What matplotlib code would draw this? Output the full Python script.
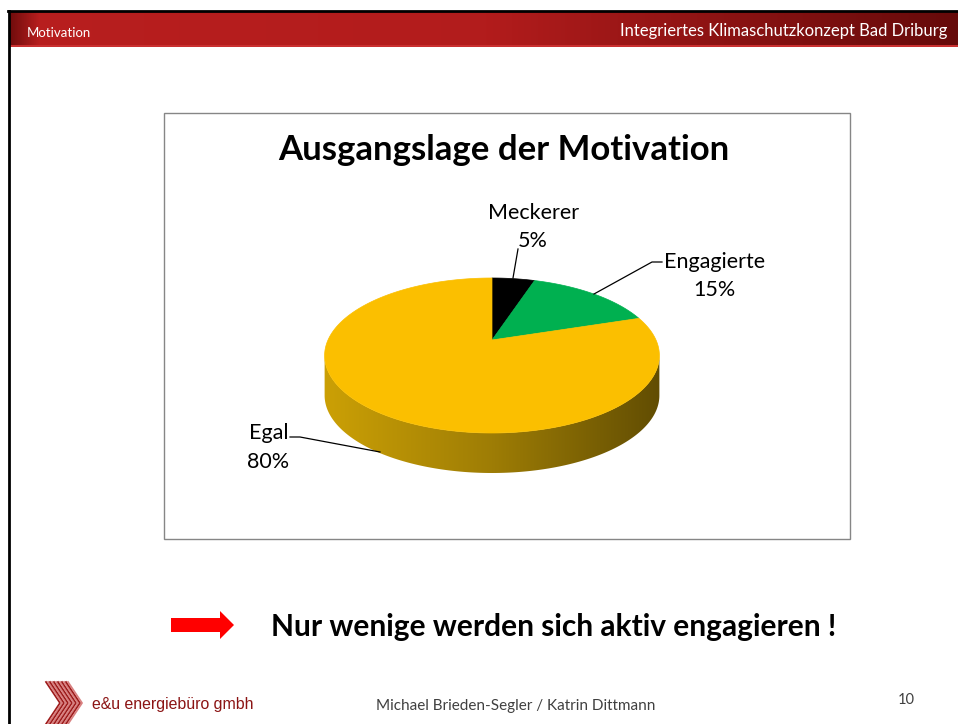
import numpy as np
import matplotlib
matplotlib.use("Agg")
import matplotlib.pyplot as plt
from matplotlib.patches import Polygon, Rectangle

# =========================================================
# DATA
# =========================================================
slice_labels = ["Meckerer", "Engagierte", "Egal"]
slice_shares = [5, 15, 80]
slice_colors = ["#000000", "#00b050", "#fbbf00"]

chart_title = "Ausgangslage der Motivation"
header_left = "Motivation"
header_right = "Integriertes Klimaschutzkonzept Bad Driburg"
statement = "Nur wenige werden sich aktiv engagieren !"
company = "e&u energiebüro gmbh"
authors = "Michael Brieden-Segler / Katrin Dittmann"
page_no = "10"

# =========================================================
# SETTINGS (pixel layout, y grows downwards)
# =========================================================
W, H = 958, 724
FONT = "Lato"

# 3D pie projection
CX, CY = 492, 340      # apex of the slices
A, B = 164, 74.4       # half axes before perspective
K = 0.2                # perspective strength
DEPTH = 40


def proj(theta_deg, r=1.0, dy=0.0):
    t = np.radians(theta_deg)
    u = r * np.sin(t)
    v = -r * np.cos(t)
    w = 1 - K * v
    return CX + A * u / w, CY + B * v / w + dy


fig = plt.figure(figsize=(W / 100, H / 100), dpi=100)
ax = fig.add_axes([0, 0, 1, 1])
ax.set_xlim(0, W)
ax.set_ylim(H, 0)
ax.axis("off")

# ---------------------------------------------------------
# slide frame, header and footer
# ---------------------------------------------------------
hx = np.linspace(0, 1, 400)
r = np.interp(hx, [0, 0.03, 0.5, 1], [0.45, 0.72, 0.70, 0.40])
g = np.interp(hx, [0, 0.03, 0.5, 1], [0.05, 0.12, 0.11, 0.04])
b = np.interp(hx, [0, 0.03, 0.5, 1], [0.05, 0.12, 0.11, 0.04])
header = np.dstack([r, g, b])[0][None, :, :]
ax.imshow(header, extent=(10, W, 46, 12), aspect="auto", zorder=1)
ax.add_patch(Rectangle((10, 45), W - 10, 2, color="#c93030", lw=0, zorder=2))
ax.plot([8, W], [11, 11], color="black", lw=2, zorder=3)
ax.plot([9, 9], [11, H], color="black", lw=2, zorder=3)

fy = np.linspace(1, 0.9, 100)
footer = np.dstack([fy, fy, fy])[:, 0, :][:, None, :]
ax.imshow(footer, extent=(10, W, H, 672), aspect="auto", zorder=0)

ax.text(27, 33, header_left, color="white", fontsize=9.5, family=FONT,
        va="center", ha="left", zorder=4)
ax.text(947, 31, header_right, color="white", fontsize=12, family=FONT,
        va="center", ha="right", zorder=4)

# chart frame
ax.add_patch(Rectangle((164, 113), 686, 426, fill=False, ec="#868686", lw=1, zorder=2))
ax.text(504, 150, chart_title, fontsize=25, fontweight="bold", family=FONT,
        ha="center", va="center", zorder=4)

# ---------------------------------------------------------
# 3D pie
# ---------------------------------------------------------
ext = np.degrees(np.arccos(-K))          # angle of widest point
front = np.linspace(ext, 360 - ext, 200)
top_pts = [proj(t) for t in front]
bot_pts = [proj(t, dy=DEPTH) for t in front[::-1]]
side = Polygon(top_pts + bot_pts, closed=True, fc="none", ec="none", zorder=3)
ax.add_patch(side)
sx = np.linspace(0, 1, 300)
sr = np.interp(sx, [0, 0.5, 1], [0.80, 0.62, 0.38])
sg = np.interp(sx, [0, 0.5, 1], [0.63, 0.49, 0.30])
sb = np.interp(sx, [0, 0.5, 1], [0.02, 0.02, 0.01])
side_img = ax.imshow(np.dstack([sr, sg, sb])[0][None, :, :],
                     extent=(CX - 170, CX + 170, 480, 340), aspect="auto", zorder=3)
side_img.set_clip_path(side)

start = 0.0
for share, col in zip(slice_shares, slice_colors):
    span = share / sum(slice_shares) * 360
    arc = np.linspace(start, start + span, max(int(span), 2) * 2)
    pts = [(CX, CY)] + [proj(t) for t in arc]
    ax.add_patch(Polygon(pts, closed=True, fc=col, ec=col, lw=0.5, zorder=4))
    start += span

# labels with leader lines
lab_fs = 15.5
ax.text(534, 213, slice_labels[0], fontsize=lab_fs, family=FONT, ha="center", va="center", zorder=5)
ax.text(533, 241, f"{slice_shares[0]}%", fontsize=lab_fs, family=FONT, ha="center", va="center", zorder=5)
ax.plot([518, 513], [249, 278], color="black", lw=0.9, zorder=5)

ax.text(715, 262, slice_labels[1], fontsize=lab_fs, family=FONT, ha="center", va="center", zorder=5)
ax.text(714, 290, f"{slice_shares[1]}%", fontsize=lab_fs, family=FONT, ha="center", va="center", zorder=5)
ax.plot([662, 652, 594], [262, 262, 294], color="black", lw=0.9, zorder=5)

ax.text(269, 433, slice_labels[2], fontsize=lab_fs, family=FONT, ha="center", va="center", zorder=5)
ax.text(268, 462, f"{slice_shares[2]}%", fontsize=lab_fs, family=FONT, ha="center", va="center", zorder=5)
ax.plot([290, 300, 380], [437, 437, 452], color="black", lw=0.9, zorder=5)

# ---------------------------------------------------------
# statement with arrow
# ---------------------------------------------------------
arrow = [(171, 618), (220, 618), (220, 611), (234, 625), (220, 639), (220, 632), (171, 632)]
ax.add_patch(Polygon(arrow, closed=True, fc="#ff0000", ec="none", zorder=4))
ax.text(554, 627, statement, fontsize=21.5, fontweight="bold", family=FONT,
        ha="center", va="center", zorder=4)

# ---------------------------------------------------------
# footer: logo and texts
# ---------------------------------------------------------
for i, x0 in enumerate(np.linspace(46, 68, 12)):
    col = "#9e1b1b" if i % 2 == 0 else "#d98080"
    ax.plot([x0, x0 + 14, x0], [682, 703, 724], color=col, lw=1.3, zorder=4)

ax.text(92, 705, company, fontsize=11.4, family="Liberation Sans", color="#8b1414",
        ha="left", va="center", zorder=4)
ax.text(516, 706, authors, fontsize=11, family=FONT, color="#404040",
        ha="center", va="center", zorder=4)
ax.text(906, 700, page_no, fontsize=10.5, family=FONT, color="#404040",
        ha="center", va="center", zorder=4)

fig.savefig("out.png", dpi=100)
